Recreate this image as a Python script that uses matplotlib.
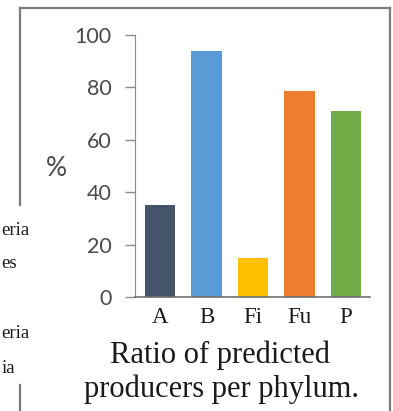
import matplotlib.pyplot as plt
from matplotlib.lines import Line2D

# data
phyla = ["A", "B", "Fi", "Fu", "P"]
ratios = [35, 94, 15, 78.5, 71]
colors = ["#44546A", "#5B9BD5", "#FFC000", "#ED7D31", "#70AD47"]
y_ticks = [0, 20, 40, 60, 80, 100]
side_words = ["eria", "es", "eria", "ia"]

W, H = 393, 411


def fx(x):
    return x / W


def fy(y):
    return 1 - y / H


fig = plt.figure(figsize=(W / 100, H / 100), dpi=100)
ax = fig.add_axes([fx(135), fy(297), fx(370) - fx(135), fy(35) - fy(297)])

x = list(range(len(phyla)))
ax.bar(x, ratios, width=0.65, color=colors)
ax.set_xlim(-0.54, 4.52)
ax.set_ylim(0, 100)
ax.set_yticks(y_ticks)
ax.set_yticklabels([str(t) for t in y_ticks], family="Lato", fontsize=15.5, color="#4a4a4a")
ax.set_xticks(x)
ax.set_xticklabels(phyla, family="Liberation Serif", fontsize=16.5, color="#1a1a1a")
ax.tick_params(axis="y", length=7, width=1, color="#8c8c8c", pad=10)
ax.tick_params(axis="x", length=0, pad=7)
for s in ["top", "right"]:
    ax.spines[s].set_visible(False)
ax.spines["left"].set_color("#8c8c8c")
ax.spines["bottom"].set_color("#6f6f6f")
ax.spines["bottom"].set_linewidth(1.2)

fig.text(fx(56), fy(168), "%", family="Lato", fontsize=19, color="#4a4a4a",
         ha="center", va="center")

fig.text(fx(220), fy(363), "Ratio of predicted", family="Liberation Serif",
         fontsize=22, color="#1a1a1a", ha="center", va="baseline")
fig.text(fx(221), fy(397), "producers per phylum.", family="Liberation Serif",
         fontsize=22, color="#1a1a1a", ha="center", va="baseline")

# fragments of the neighbouring panel at the left edge
for word, yb in zip(side_words, [235, 268, 338, 373]):
    fig.text(fx(1.5), fy(yb), word, family="Liberation Serif", fontsize=13.5,
             color="#1a1a1a", ha="left", va="baseline")

# frame around the panel
border = dict(color="#7a7a7a", linewidth=1.6, transform=fig.transFigure)
fig.add_artist(Line2D([fx(20), fx(390)], [fy(8), fy(8)], **border))
fig.add_artist(Line2D([fx(390), fx(390)], [fy(8), fy(411)], **border))
fig.add_artist(Line2D([fx(20), fx(20)], [fy(8), fy(205)], **border))
fig.add_artist(Line2D([fx(20), fx(20)], [fy(385), fy(411)], **border))

fig.savefig("out.png", dpi=100)
